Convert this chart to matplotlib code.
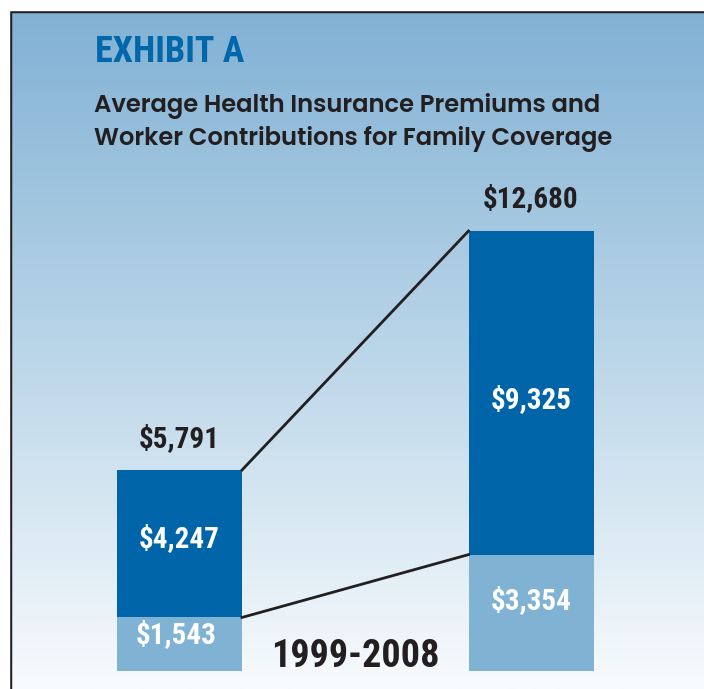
import numpy as np
import matplotlib
matplotlib.use("Agg")
import matplotlib.pyplot as plt
from matplotlib.colors import LinearSegmentedColormap

# ----- data -----
years = ["1999", "2008"]
worker = [1543, 3354]
employer = [4247, 9325]
totals = [5791, 12680]
period_label = "1999-2008"

DARK = "#0064a8"
LIGHT = "#80b2d4"
INK = "#231f20"
COND = ["Roboto Condensed", "DejaVu Sans"]
GEO = ["Poppins", "DejaVu Sans"]

W, H = 704, 689
fig = plt.figure(figsize=(W / 100, H / 100), dpi=100)

# gradient background
bg = fig.add_axes([0, 0, 1, 1])
cmap = LinearSegmentedColormap.from_list("bg", ["#7fb0d4", "#b9d5e8", "#f8fbfd"])
grad = np.linspace(0, 1, 256).reshape(-1, 1)
bg.imshow(grad, aspect="auto", cmap=cmap, extent=[0, W, H, 0])
bg.set_xlim(0, W)
bg.set_ylim(H, 0)
bg.axis("off")
# frame lines (top and left)
bg.plot([10, W], [11, 11], color=INK, lw=2.5, solid_capstyle="butt")
bg.plot([10, 10], [11, H], color=INK, lw=2.5, solid_capstyle="butt")
bg.add_patch(plt.Rectangle((0, 0), W, 10, color="white", zorder=3))
bg.add_patch(plt.Rectangle((0, 0), 8.8, H, color="white", zorder=3))

# titles
fig.text(95 / W, 1 - 62 / H, "EXHIBIT A", color="#0067aa", fontsize=26,
         fontweight="bold", family=COND, va="baseline")
fig.text(94 / W, 1 - 112 / H, "Average Health Insurance Premiums and", color=INK,
         fontsize=17.5, fontweight=600, family=GEO, va="baseline")
fig.text(94 / W, 1 - 145 / H, "Worker Contributions for Family Coverage", color=INK,
         fontsize=17.5, fontweight=600, family=GEO, va="baseline")

# chart axes, scaled so that bars share a baseline at y=671 px
base_px, top_px = 671, 11
px_per_dollar = 440 / 12680
ax = fig.add_axes([0, (H - base_px) / H, 1, (base_px - top_px) / H])
ax.patch.set_alpha(0)
spacing = 351.5
c0 = 179.5
ax.set_xlim(-c0 / spacing, 1 + (W - c0 - spacing) / spacing)
ax.set_ylim(0, (base_px - top_px) / px_per_dollar)
ax.axis("off")

x = np.arange(len(years))
bw = 125 / spacing
ax.bar(x, worker, width=bw, color=LIGHT, zorder=2)
ax.bar(x, employer, width=bw, bottom=worker, color=DARK, zorder=2)

# connecting lines
ax.plot([x[0] + bw / 2, x[1] - bw / 2], [totals[0], totals[1]], color=INK, lw=2, zorder=3)
ax.plot([x[0] + bw / 2, x[1] - bw / 2], [worker[0], worker[1]], color=INK, lw=2, zorder=3)

numfont = dict(family=COND, fontweight="bold", fontsize=21)
# label offsets in dollars, nudged to sit like the original
emp_shift = [150, -190]
wrk_shift = [265, 360]
for i in range(len(years)):
    ax.text(x[i], totals[i] + 920, f"${totals[i]:,}", ha="center", va="center",
            color=INK, **numfont)
    ax.text(x[i], worker[i] + employer[i] / 2 + emp_shift[i], f"${employer[i]:,}",
            ha="center", va="center", color="white", **numfont)
    ax.text(x[i] - (0.01 if i == 0 else 0), worker[i] / 2 + wrk_shift[i],
            f"${worker[i]:,}", ha="center", va="center", color="white", **numfont)

ax.text(0.5, 420, period_label, ha="center", va="center", color=INK,
        family=COND, fontweight="bold", fontsize=27.5)

fig.savefig("out.png", dpi=100)
